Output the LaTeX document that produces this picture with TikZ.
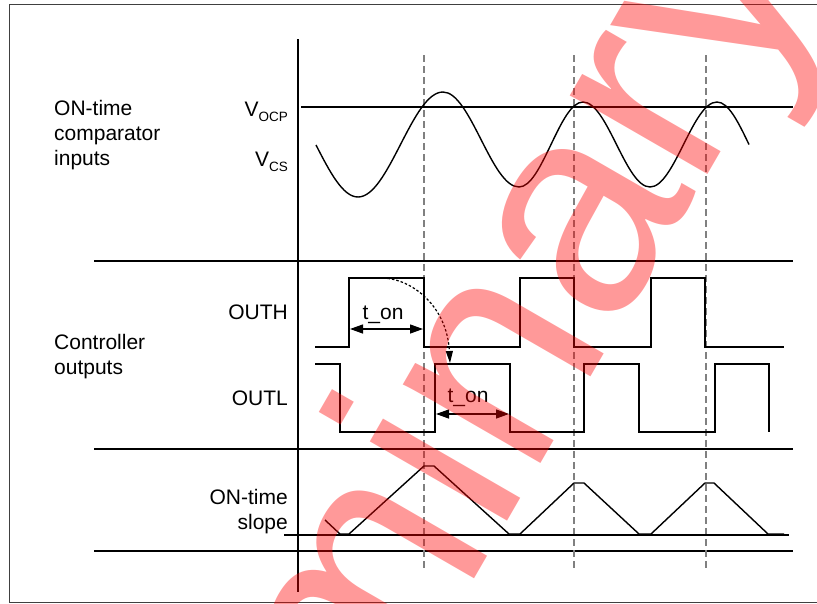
\documentclass[tikz,border=0pt]{standalone}
\usepackage{fontspec}
\setmainfont{Liberation Sans}
\usepackage{tikz}
\usetikzlibrary{arrows.meta}
\definecolor{guidegray}{RGB}{128,128,128}
\definecolor{framegray}{RGB}{64,64,64}
\definecolor{stampred}{RGB}{255,0,0}
\newcommand{\vsub}[1]{\raisebox{-5pt}{\fontsize{13.5}{14}\selectfont #1}}

\begin{document}
\begin{tikzpicture}[x=1pt,y=-1pt,
    wave/.style={line width=1.4pt},
    guide/.style={guidegray,line width=1.1pt,dash pattern=on 7pt off 4pt},
    lbl/.style={inner sep=0pt,font=\fontsize{21}{25}\selectfont},
    tonarrow/.style={line width=1.3pt,{Triangle[length=13pt,width=9pt]}-{Triangle[length=13pt,width=9pt]}}]
    \useasboundingbox (0,0) rectangle (817,603);
    \draw[framegray,line width=1pt] (9,4) rectangle (840,602);

    % Axis and separators
    \draw[line width=1.3pt] (298,39) -- (298,592);
    \foreach \y in {261,449,551} {
        \draw[line width=1.3pt] (94,\y) -- (793,\y);
    }

    % Switching instants
    \foreach \x in {424,574,706} {
        \draw[guide] (\x,55) -- (\x,568);
    }

    % Comparator inputs
    \draw[wave] (301,107) -- (793,107);
    \draw[wave] (316,145) sin (358,197) cos (400.5,144.5) sin (443,92) cos (481,139.5)
        sin (519,187) cos (551,144.5) sin (583,102) cos (616.5,144.5)
        sin (650,187) cos (683.5,144.5) sin (717,102) cos (749,144.5);

    % Controller outputs
    \draw[wave] (315,347) -- (349,347) -- (349,278) -- (424,278) -- (424,347) -- (520,347)
        -- (520,278) -- (574,278) -- (574,347) -- (651,347) -- (651,278) -- (705,278)
        -- (705,347) -- (784,347);
    \draw[wave] (315,364) -- (340,364) -- (340,432) -- (435,432) -- (435,364) -- (510,364)
        -- (510,432) -- (584,432) -- (584,364) -- (639,364) -- (639,432) -- (715,432)
        -- (715,364) -- (769,364) -- (769,432);

    % ON-time slope
    \draw[wave] (284,535) -- (789,535);
    \draw[wave] (325,520) -- (340,534) -- (349,534) -- (424,466) -- (434,466) -- (509,534)
        -- (520,534) -- (574,483) -- (584,483) -- (639,534) -- (651,534) -- (705,483)
        -- (714,483) -- (768,534) -- (784,534);

    % Labels
    \node[lbl,anchor=base west,align=left] (cmplbl) at (54,165) {ON-time\\comparator\\inputs};
    \node[lbl,anchor=base east] (vocplbl) at (288,116) {V\vsub{OCP}};
    \node[lbl,anchor=base east] (vcslbl) at (288,166) {V\vsub{CS}};
    \node[lbl,anchor=base west,align=left] (ctllbl) at (54,374) {Controller\\outputs};
    \node[lbl,anchor=base east] (outhlbl) at (288,319) {OUTH};
    \node[lbl,anchor=base east] (outllbl) at (288,405) {OUTL};
    \node[lbl,anchor=base east,align=right] (slopelbl) at (288,529) {ON-time\\slope};

    % t_on markers
    \coordinate (tonha) at (350,329);
    \coordinate (tonhb) at (423,329);
    \coordinate (tonla) at (436,414);
    \coordinate (tonlb) at (509,414);
    \draw[tonarrow] (tonha) -- (tonhb);
    \draw[tonarrow] (tonla) -- (tonlb);
    \node[lbl,anchor=base] (tonhlbl) at (383,319) {t\_on};
    \node[lbl,anchor=base] (tonllbl) at (468,402) {t\_on};

    % Hand-over from OUTH to OUTL
    \coordinate (handa) at (383,278);
    \coordinate (handb) at (450,363);
    \draw[line width=1.2pt,dash pattern=on 2.5pt off 2pt,-{Triangle[length=12pt,width=7pt]}]
        (handa) .. controls (412,279) and (447,306) .. (handb);

    % Watermark
    \begin{scope}
        \clip (0,0) rectangle (817,603);
        \node[rotate=60,anchor=base west,inner sep=0pt,text=stampred,text opacity=0.4,
            font=\fontsize{300}{300}\selectfont] (stamp) at (72,1275) {Preliminary};
    \end{scope}
\end{tikzpicture}
\end{document}
